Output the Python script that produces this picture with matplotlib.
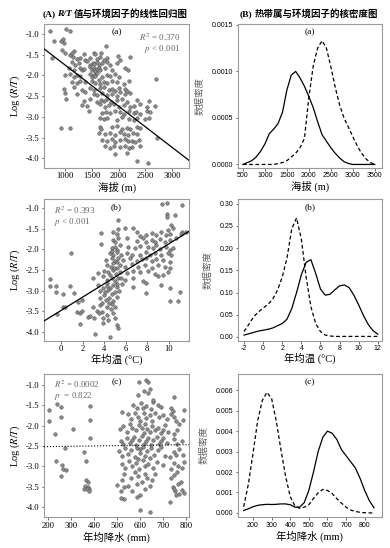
import matplotlib
matplotlib.use('Agg')
import matplotlib.pyplot as plt

plt.rcParams['font.family'] = ['Liberation Serif', 'Noto Sans CJK SC']
plt.rcParams['mathtext.fontset'] = 'stix'
plt.rcParams['axes.unicode_minus'] = False

# ---- (A)(a) 海拔 vs Log(R/T) ----
elev_pts = [
    (707, -0.93), (1019, -0.89), (1094, -0.93),
    (782, -1.18), (919, -1.16), (957, -1.13), (969, -1.22),
    (1760, -1.29), (938, -1.38), (1156, -1.41),
    (1000, -1.46), (1081, -1.51), (1125, -1.47), (1343, -1.48), (1530, -1.45), (1561, -1.49), (1673, -1.46), (1978, -1.53),
    (751, -1.58), (1144, -1.55), (1218, -1.61), (1281, -1.58), (1374, -1.63), (1468, -1.57), (1592, -1.60), (1654, -1.55),
    (1717, -1.64), (1779, -1.59), (2028, -1.62), (2203, -1.55),
    (1125, -1.68), (1187, -1.74), (1249, -1.70), (1405, -1.66), (1468, -1.75), (1517, -1.69), (1542, -1.72), (1592, -1.67),
    (1623, -1.76), (1686, -1.71), (1779, -1.68), (1841, -1.74), (1966, -1.70),
    (1063, -1.83), (1156, -1.87), (1281, -1.81), (1312, -1.88), (1343, -1.85), (1468, -1.80), (1499, -1.86), (1530, -1.82),
    (1561, -1.89), (1592, -1.84), (1623, -1.81), (1654, -1.87), (1748, -1.83), (1872, -1.86), (2122, -1.82), (2165, -1.88),
    (1000, -2.00), (1094, -1.97), (1156, -2.03), (1218, -1.98), (1268, -2.02), (1468, -1.96), (1499, -2.04), (1530, -1.99),
    (1561, -2.01), (1592, -1.95), (1686, -2.03), (1779, -1.98), (1841, -2.02), (1935, -1.97), (1997, -2.05), (2700, -2.08),
    (1125, -2.15), (1218, -2.18), (1281, -2.13), (1374, -2.17), (1499, -2.14), (1561, -2.19), (1623, -2.12), (1654, -2.20),
    (1717, -2.15), (1779, -2.18), (1872, -2.13), (1966, -2.17), (2091, -2.21), (2184, -2.14),
    (969, -2.32), (1156, -2.29), (1312, -2.34), (1468, -2.30), (1530, -2.36), (1654, -2.31), (1717, -2.28), (1810, -2.35),
    (1872, -2.32), (1935, -2.38), (1997, -2.30), (2122, -2.33), (2153, -2.37),
    (1000, -2.43), (1218, -2.46), (1374, -2.41), (1530, -2.45), (1592, -2.48), (1686, -2.42), (1779, -2.47), (1872, -2.44),
    (1966, -2.49), (2028, -2.41), (2122, -2.46), (2215, -2.43),
    (1019, -2.58), (1343, -2.61), (1468, -2.57), (1592, -2.63), (1667, -2.59), (1717, -2.62), (1779, -2.56), (1854, -2.64),
    (1966, -2.60), (2059, -2.57), (2153, -2.63), (2340, -2.59), (2558, -2.62),
    (1312, -2.71), (1405, -2.74), (1654, -2.70), (1748, -2.76), (1810, -2.72), (1904, -2.69), (1997, -2.75), (2091, -2.71),
    (2203, -2.77), (2277, -2.73), (2402, -2.70), (2539, -2.76), (2682, -2.73),
    (1436, -2.86), (1686, -2.90), (1767, -2.87), (1841, -2.91), (1935, -2.85), (2028, -2.89), (2103, -2.93), (2184, -2.86),
    (2277, -2.90), (2327, -2.88), (2390, -2.92), (2527, -2.85), (2589, -2.89),
    (1654, -3.02), (1717, -3.06), (1779, -3.03), (1966, -3.07), (2059, -3.01), (2184, -3.05), (2277, -3.08), (2340, -3.03),
    (2495, -3.06), (2558, -3.02),
    (925, -3.27), (1081, -3.27), (1654, -3.24), (1667, -3.29), (1872, -3.25), (1966, -3.22), (2059, -3.28), (2153, -3.26),
    (2215, -3.30), (2340, -3.24), (2402, -3.27),
    (1623, -3.38), (1748, -3.42), (1841, -3.39), (1935, -3.44), (2028, -3.37), (2091, -3.41), (2165, -3.43), (2265, -3.38),
    (2340, -3.42), (2720, -3.50),
    (1686, -3.55), (1779, -3.58), (1872, -3.54), (1935, -3.60), (2028, -3.56), (2122, -3.53), (2165, -3.59), (2246, -3.57),
    (2309, -3.61), (2371, -3.55),
    (1748, -3.71), (1841, -3.74), (1904, -3.70), (2028, -3.73), (2122, -3.69), (2184, -3.75), (2246, -3.72), (2402, -3.71),
    (1935, -3.89), (2153, -3.86), (2340, -4.06), (2551, -4.10),
]
elev_fit = (-0.000989, -0.767)   # slope, intercept

# ---- (A)(b) 年均温 vs Log(R/T) ----
temp_pts = [
    (9.41, -0.91), (9.88, -0.89), (11.2, -0.93), (9.88, -1.15), (9.88, -1.23), (10.56, -1.17), (5.31, -1.29),
    (10.19, -1.41), (10.40, -1.49), (9.94, -1.53), (11.27, -1.59), (11.6, -1.59), (6.70, -1.49), (7.01, -1.57), (5.93, -1.48),
    (3.70, -1.61), (4.85, -1.57), (5.15, -1.64), (7.32, -1.69), (7.93, -1.65), (8.40, -1.61), (8.86, -1.65), (9.32, -1.57),
    (9.78, -1.65), (10.09, -1.64), (11.17, -1.64),
    (3.70, -1.88), (4.85, -1.78), (5.00, -1.82), (5.31, -1.73), (6.08, -1.73), (7.01, -1.80), (7.62, -1.73), (7.93, -1.83),
    (8.40, -1.78), (8.70, -1.82), (9.17, -1.75), (9.63, -1.83), (10.09, -1.78), (10.71, -1.73),
    (4.69, -1.98), (5.00, -1.94), (5.15, -2.02), (5.46, -1.90), (6.23, -1.94), (6.85, -1.98), (7.32, -1.91), (8.09, -1.94),
    (8.55, -1.98), (8.86, -1.90), (9.17, -1.99), (9.78, -1.94), (10.09, -2.02), (10.40, -1.98),
    (0.93, -2.08), (4.54, -2.10), (4.85, -2.14), (5.15, -2.06), (5.52, -2.15), (6.08, -2.10), (6.54, -2.14), (7.32, -2.15),
    (7.93, -2.06), (8.24, -2.14), (8.70, -2.10), (9.32, -2.14), (9.94, -2.10), (10.25, -2.15),
    (4.17, -2.26), (4.69, -2.22), (5.00, -2.28), (5.31, -2.20), (5.77, -2.26), (6.39, -2.22), (7.01, -2.28), (7.47, -2.24),
    (7.93, -2.20), (8.40, -2.28), (8.86, -2.24), (9.48, -2.26), (10.09, -2.30),
    (4.23, -2.38), (4.60, -2.42), (4.85, -2.34), (5.15, -2.45), (5.46, -2.38), (5.93, -2.42), (6.54, -2.36), (7.16, -2.42),
    (7.78, -2.38), (8.40, -2.45), (9.01, -2.38), (9.63, -2.42), (10.09, -2.46),
    (3.46, -2.58), (3.98, -2.53), (4.38, -2.56), (4.78, -2.50), (5.09, -2.61), (5.46, -2.54), (6.08, -2.58), (6.70, -2.53),
    (7.32, -2.56), (8.09, -2.53), (8.70, -2.61), (9.48, -2.62), (9.94, -2.56),
    (-1.08, -2.72), (2.93, -2.69), (3.92, -2.66), (4.29, -2.74), (4.69, -2.70), (5.00, -2.78), (5.31, -2.69), (5.93, -2.74),
    (6.70, -2.70), (7.62, -2.77), (9.01, -2.66),
    (-1.08, -2.89), (-0.49, -2.89), (0.77, -2.88), (3.46, -2.86), (3.86, -2.93), (4.23, -2.82), (4.54, -2.93), (4.85, -2.86),
    (5.15, -2.91), (5.62, -2.85), (6.70, -2.91), (7.87, -2.82), (9.32, -2.86), (10.09, -2.93),
    (-0.49, -3.04), (0.15, -3.09), (1.14, -3.07), (3.61, -3.01), (4.07, -3.04), (4.38, -2.99), (4.69, -3.09), (5.00, -3.03),
    (7.93, -3.07), (11.02, -3.03),
    (1.91, -3.23), (3.61, -3.19), (4.17, -3.23), (4.48, -3.17), (4.85, -3.25), (5.15, -3.15), (10.09, -3.25), (10.9, -3.25),
    (0.15, -3.41), (0.37, -3.41), (1.60, -3.28), (2.99, -3.39), (3.61, -3.35), (4.23, -3.41), (4.69, -3.33), (5.00, -3.39),
    (-0.40, -3.58), (1.45, -3.51), (1.70, -3.55), (1.91, -3.49), (3.30, -3.49), (3.77, -3.53), (4.23, -3.59), (4.85, -3.55),
    (2.47, -3.63), (2.69, -3.61), (3.09, -3.66), (3.92, -3.67), (4.38, -3.71), (5.00, -3.66),
    (1.76, -3.82), (3.92, -3.79), (5.15, -3.83), (5.31, -3.91), (3.15, -4.06), (4.54, -4.12),
    (4.5, -2.62), (4.9, -2.45), (5.2, -2.85), (4.4, -3.30), (5.4, -3.00), (4.0, -3.10), (5.2, -2.30), (4.7, -2.05),
    (5.3, -1.50), (4.3, -2.90), (3.5, -3.55), (4.6, -3.45), (5.6, -2.70), (3.8, -3.30),
]
temp_fit = (0.161, -3.48)

# ---- (A)(c) 年均降水 vs Log(R/T) ----
prec_pts = [
    (204, -1.61), (204, -1.88), (229, -2.20), (239, -1.47), (254, -1.55), (254, -1.79), (273, -2.56), (234, -2.88),
    (258, -2.97), (263, -3.06), (277, -3.09), (254, -3.23), (307, -2.09), (356, -2.66), (365, -2.88), (380, -1.53),
    (380, -1.86), (380, -2.31), (365, -3.33), (371, -3.40), (361, -3.48), (373, -3.50), (377, -3.55), (356, -3.57),
    (366, -3.56), (376, -3.60),
    (595, -0.92), (624, -0.88), (634, -0.93), (614, -1.16), (631, -1.20), (590, -1.25), (748, -1.29), (640, -1.10),
    (566, -1.49), (602, -1.45), (625, -1.52), (655, -1.41), (675, -1.49), (610, -1.58), (585, -1.56), (645, -1.60),
    (690, -1.55), (735, -1.58), (790, -1.61), (655, -1.38),
    (520, -1.66), (545, -1.72), (560, -1.85), (575, -1.68), (590, -1.78), (600, -1.90), (615, -1.70), (625, -1.82),
    (640, -1.74), (650, -1.88), (665, -1.68), (680, -1.80), (700, -1.75), (715, -1.85), (735, -1.72), (745, -1.78),
    (755, -1.88), (785, -1.87), (740, -1.65),
    (510, -2.08), (525, -2.00), (540, -2.15), (555, -1.95), (565, -2.05), (580, -2.12), (595, -1.98), (605, -2.05),
    (615, -2.18), (620, -1.95), (630, -2.08), (640, -2.15), (650, -2.00), (665, -2.12), (675, -2.05), (690, -2.18),
    (700, -2.10), (705, -1.98), (720, -2.15), (745, -2.20), (760, -2.10), (770, -1.96),
    (515, -2.38), (525, -2.45), (540, -2.30), (555, -2.42), (570, -2.28), (580, -2.48), (595, -2.35), (605, -2.25),
    (615, -2.45), (625, -2.38), (635, -2.30), (645, -2.48), (655, -2.36), (670, -2.28), (680, -2.45), (690, -2.38),
    (700, -2.30), (715, -2.42), (745, -2.32), (760, -2.45), (780, -2.38), (565, -2.35),
    (505, -2.62), (520, -2.75), (535, -2.55), (545, -2.70), (560, -2.60), (575, -2.78), (585, -2.55), (600, -2.68),
    (610, -2.52), (620, -2.75), (630, -2.62), (645, -2.55), (660, -2.72), (675, -2.60), (690, -2.52), (705, -2.75),
    (730, -2.78), (745, -2.65), (755, -2.72), (770, -2.58), (785, -2.72), (640, -2.80), (600, -2.58),
    (520, -2.95), (535, -3.05), (550, -2.88), (565, -3.00), (580, -2.92), (595, -3.08), (610, -2.85), (620, -3.00),
    (635, -2.95), (655, -3.05), (670, -2.90), (700, -2.98), (735, -3.08), (745, -2.92), (765, -3.00), (780, -3.05),
    (790, -2.90), (590, -2.82),
    (520, -3.35), (530, -3.20), (560, -3.30), (575, -3.15), (590, -3.25), (605, -3.38), (620, -3.18), (630, -3.28),
    (650, -3.35), (665, -3.20), (735, -3.30), (760, -3.15), (775, -3.38), (745, -3.22),
    (500, -3.46), (515, -3.62), (530, -3.52), (545, -3.48), (565, -3.60), (585, -3.45), (600, -3.70), (620, -3.55),
    (640, -3.48), (740, -3.52), (750, -3.62), (765, -3.45), (780, -3.58), (790, -3.66), (755, -3.70), (745, -3.56),
    (515, -3.78), (530, -3.80), (585, -3.75), (600, -4.07), (640, -4.12), (730, -3.89), (770, -3.68),
]
prec_fit = (0.000079, -2.534)

# ---- (B) kernel density curves (solid / dashed) ----
kde_elev_x = [500, 600, 700, 800, 900, 1000, 1100, 1200, 1300, 1400, 1500, 1600, 1700, 1800, 1900, 2000,
              2100, 2200, 2300, 2400, 2500, 2600, 2700, 2800, 2900, 3000, 3100, 3200, 3300, 3400, 3500]
kde_elev_solid = [0.0, 0.00002, 0.00004, 0.00008, 0.00014, 0.00022, 0.00033, 0.00038, 0.00044, 0.00056, 0.00080,
                  0.00096, 0.00100, 0.00093, 0.00084, 0.00073, 0.00061, 0.00046, 0.00032, 0.00025, 0.00018, 0.00012,
                  0.00007, 0.00003, 0.00001, 0.0, 0.0, 0.0, 0.0, 0.0, 0.0]
kde_elev_dash = [0.0, 0.0, 0.0, 0.0, 0.0, 0.0, 0.0, 0.0, 0.00001, 0.00002, 0.00004, 0.00008, 0.00012, 0.00018,
                 0.00028, 0.00072, 0.00106, 0.00125, 0.00133, 0.00125, 0.00105, 0.00083, 0.00064, 0.00050, 0.00040,
                 0.00030, 0.00020, 0.00012, 0.00006, 0.00002, 0.0]

kde_temp_x = [-2, -1.5, -1, -0.5, 0, 0.5, 1, 1.5, 2, 2.5, 3, 3.5, 4, 4.5, 5, 5.5, 6, 6.5, 7, 7.5, 8, 8.5, 9,
              9.5, 10, 10.5, 11, 11.5, 12]
kde_temp_solid = [0.004, 0.007, 0.010, 0.013, 0.015, 0.017, 0.020, 0.025, 0.030, 0.040, 0.064, 0.100, 0.140,
                  0.168, 0.174, 0.143, 0.108, 0.094, 0.096, 0.106, 0.115, 0.117, 0.111, 0.094, 0.072, 0.048,
                  0.028, 0.014, 0.006]
kde_temp_dash = [0.012, 0.028, 0.045, 0.056, 0.065, 0.073, 0.085, 0.105, 0.135, 0.178, 0.244, 0.268, 0.220,
                 0.135, 0.068, 0.030, 0.012, 0.004, 0.002, 0.001, 0.001, 0.001, 0.001, 0.001, 0.001, 0.001,
                 0.001, 0.001, 0.001]

kde_prec_x = [150, 175, 200, 225, 250, 275, 300, 325, 350, 375, 400, 425, 450, 475, 500, 525, 550, 575, 600,
              625, 650, 675, 700, 725, 750, 775, 800, 825, 850]
kde_prec_solid = [0.00012, 0.0002, 0.0003, 0.00037, 0.0004, 0.00042, 0.00041, 0.00042, 0.00044, 0.00044, 0.0004,
                  0.00028, 0.00028, 0.0005, 0.0011, 0.0020, 0.0030, 0.0037, 0.0040, 0.0039, 0.0036, 0.0031,
                  0.0028, 0.0025, 0.0022, 0.0017, 0.0011, 0.0006, 0.00025]
kde_prec_dash = [0.0003, 0.0014, 0.0029, 0.0045, 0.0055, 0.0059, 0.0056, 0.0045, 0.0031, 0.0018, 0.0008,
                 0.00035, 0.00022, 0.00028, 0.0004, 0.0007, 0.00098, 0.00115, 0.0011, 0.00095, 0.0007, 0.00048,
                 0.00028, 0.00014, 0.00007, 0.00003, 0.00001, 0.0, 0.0]

fig = plt.figure(figsize=(3.9, 5.48), dpi=100)
W, H = 390, 548

rows = [(0.6943, 0.262), (0.378, 0.259), (0.0566, 0.261)]
left_x, right_x, w_l, w_r = 0.113, 0.610, 0.372, 0.369


def style(ax, sans=False):
    for s in ax.spines.values():
        s.set_color('#9a9a9a')
        s.set_linewidth(0.8)
    ax.tick_params(direction='out', length=1.8, width=0.6, color='#555555', pad=1.5)
    for lab in ax.get_xticklabels() + ax.get_yticklabels():
        if sans:
            lab.set_family('Liberation Sans')
            lab.set_fontsize(5.0)
        else:
            lab.set_family('Liberation Serif')
            lab.set_fontsize(6.2)


def scatter_panel(ax, pts, fit, xlim, ylim, xticks, xlabel, tag, stats, stats_pos, dotted=False, xpad=1.5):
    xs = [p[0] for p in pts]
    ys = [p[1] for p in pts]
    ax.scatter(xs, ys, s=6.5, c='#8c8c8c', edgecolors='#4a4a4a', linewidths=0.35, zorder=2)
    ax.plot(list(xlim), [fit[0] * xlim[0] + fit[1], fit[0] * xlim[1] + fit[1]],
            color='black', lw=0.9 if not dotted else 0.8, ls=':' if dotted else '-', zorder=3)
    ax.set_xlim(*xlim)
    ax.set_ylim(*ylim)
    ax.set_xticks(xticks)
    ax.set_yticks([-1.0, -1.5, -2.0, -2.5, -3.0, -3.5, -4.0])
    ax.set_yticklabels(['-1.0', '-1.5', '-2.0', '-2.5', '-3.0', '-3.5', '-4.0'])
    ax.set_xlabel(xlabel, fontsize=7.5, labelpad=xpad)
    ax.set_ylabel('Log ($R/T$)', fontsize=7.5, labelpad=3)
    ax.text(0.5, 0.945, tag, transform=ax.transAxes, ha='center', va='center', fontsize=6.8)
    ha, x0, y0 = stats_pos
    ax.text(x0, y0, stats[0], transform=ax.transAxes, ha=ha, va='center', fontsize=6.5, color='#666666')
    ax.text(x0, y0 - 0.085, stats[1], transform=ax.transAxes, ha=ha, va='center', fontsize=6.5, color='#666666')
    style(ax)


def kde_panel(ax, xs, solid, dash, xlim, ylim, xticks, yticks, yfmt, xlabel, tag, xpad=1.5):
    ax.plot(xs, solid, color='black', lw=0.9)
    ax.plot(xs, dash, color='black', lw=0.9, ls=(0, (3, 2)))
    ax.set_xlim(*xlim)
    ax.set_ylim(*ylim)
    ax.set_xticks(xticks)
    ax.set_yticks(yticks)
    ax.set_yticklabels([yfmt.format(v) for v in yticks])
    ax.set_xlabel(xlabel, fontsize=7.5, labelpad=xpad)
    ax.set_ylabel('数据密度', fontsize=6.8, color='#666666', labelpad=5)
    ax.text(0.5, 0.945, tag, transform=ax.transAxes, ha='center', va='center', fontsize=6.8)
    style(ax, sans=True)


ax1 = fig.add_axes([left_x, rows[0][0], w_l, rows[0][1]])
scatter_panel(ax1, elev_pts, elev_fit, (600, 3320), (-4.22, -0.76), [1000, 1500, 2000, 2500, 3000],
              '海拔 (m)', '(a)', ['$R^2$ = 0.370', '$p$ < 0.001'], ('right', 0.94, 0.91))

ax2 = fig.add_axes([left_x, rows[1][0], w_l, rows[1][1]])
scatter_panel(ax2, temp_pts, temp_fit, (-1.6, 11.9), (-4.22, -0.78), [0, 2, 4, 6, 8, 10],
              '年均温 (°C)', '(b)', ['$R^2$ = 0.393', '$p$ < 0.001'], ('left', 0.07, 0.92), xpad=0.3)

ax3 = fig.add_axes([left_x, rows[2][0], w_l, rows[2][1]])
scatter_panel(ax3, prec_pts, prec_fit, (181, 812), (-4.25, -0.73), [200, 300, 400, 500, 600, 700, 800],
              '年均降水 (mm)', '(c)', ['$R^2$ = 0.0002', '$p$  = 0.822'], ('left', 0.07, 0.93), dotted=True)

bx1 = fig.add_axes([right_x, rows[0][0], w_r, rows[0][1]])
kde_panel(bx1, kde_elev_x, kde_elev_solid, kde_elev_dash, (386, 3660), (-0.000033, 0.00151),
          [500, 1000, 1500, 2000, 2500, 3000, 3500], [0.0, 0.0005, 0.0010, 0.0015], '{:.4f}', '海拔 (m)', '(a)')

bx2 = fig.add_axes([right_x, rows[1][0], w_r, rows[1][1]])
kde_panel(bx2, kde_temp_x, kde_temp_solid, kde_temp_dash, (-2.64, 12.42), (-0.009, 0.311),
          [-2, 0, 2, 4, 6, 8, 10, 12], [0.0, 0.05, 0.10, 0.15, 0.20, 0.25, 0.30], '{:.2f}', '年均温 (°C)', '(b)',
          xpad=0.5)

bx3 = fig.add_axes([right_x, rows[2][0], w_r, rows[2][1]])
kde_panel(bx3, kde_prec_x, kde_prec_solid, kde_prec_dash, (119, 892), (-0.0002, 0.0068),
          [200, 300, 400, 500, 600, 700, 800], [0.0, 0.001, 0.002, 0.003, 0.004, 0.005, 0.006], '{:.3f}',
          '年均降水 (mm)', '(c)')


# titles built from pieces so the italic R/T and the CJK glyphs both render
def piece_title(cx, cy, pieces, gap=2.5):
    renderer = fig.canvas.get_renderer()
    objs = []
    for txt, kw in pieces:
        objs.append(fig.text(0, cy / H, txt, ha='left', va='center', fontsize=6.8, fontweight='bold', **kw))
    widths = [t.get_window_extent(renderer).width for t in objs]
    total = sum(widths) + gap * (len(objs) - 1)
    x = cx - total / 2
    for t, w in zip(objs, widths):
        t.set_x(x / W)
        x += w + gap


piece_title(115, 534, [('(A)', {}), ('R/T', {'fontstyle': 'italic'}), ('值与环境因子的线性回归图', {'family': ['Noto Sans CJK SC']})],
            gap=1.5)
piece_title(309, 534, [('(B)', {}), ('热带属与环境因子的核密度图', {'family': ['Noto Sans CJK SC']})])

fig.savefig('out.png', dpi=100)
